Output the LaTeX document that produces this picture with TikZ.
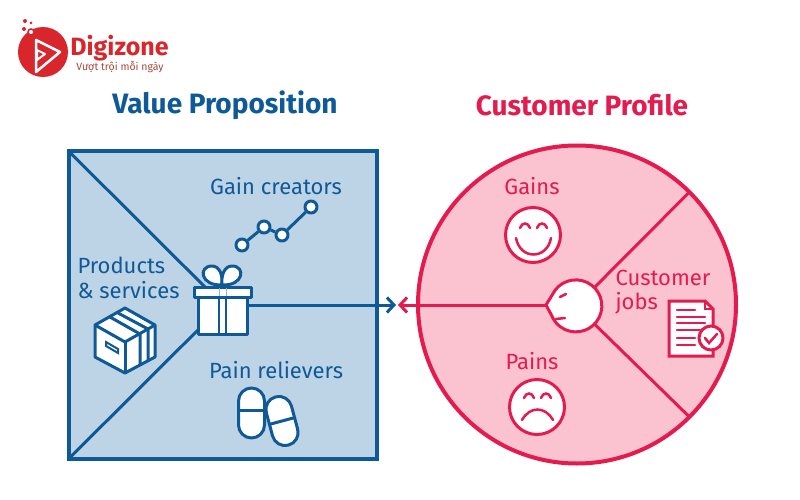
\documentclass[tikz,border=0pt]{standalone}
\usepackage{fontspec}
\setmainfont{Fira Sans}
\usetikzlibrary{arrows.meta}

\definecolor{vpblue}{HTML}{0F5A96}
\definecolor{vpfill}{HTML}{BDD3E6}
\definecolor{cpred}{HTML}{E31B4E}
\definecolor{cpfill}{HTML}{FBC3CF}
\definecolor{logored}{HTML}{D8262C}
\definecolor{logotext}{HTML}{A5493A}

\tikzset{
    title/.style={font=\fontsize{28}{32}\selectfont\bfseries},
    label/.style={font=\fontsize{22}{26}\selectfont},
    blueline/.style={draw=vpblue, line width=3pt},
    redline/.style={draw=cpred, line width=3pt},
    iconblue/.style={draw=vpblue, fill=white, line width=3pt, line join=round},
    iconred/.style={draw=cpred, fill=white, line width=3pt},
    redstroke/.style={draw=cpred, line width=2.5pt, line cap=round},
    dotnode/.style={iconblue, circle, minimum size=12pt, inner sep=0pt}
}

\begin{document}
\begin{tikzpicture}[x=1pt, y=-1pt]
    \useasboundingbox (0, 0) rectangle (800, 500);

    % Logo
    \node[circle, fill=logored, minimum size=50pt, inner sep=0pt] (logo) at (43, 52) {};
    \draw[white, line width=2.5pt, line join=round] (36, 40) -- (60, 52) -- (36, 72) -- cycle;
    \draw[white, line width=2pt, line join=round] (37, 50) -- (45, 54) -- (37, 60) -- cycle;
    \fill[logored] (25, 21) circle (2pt) (31, 23) circle (1.5pt) (24, 29) circle (2pt);
    \draw[logored, fill=white, line width=1.5pt] (31, 32) circle (3pt);
    \node[font=\fontsize{25}{28}\selectfont\bfseries, text=logored] (logoname) at (119.5, 48) {Digizone};
    \node[font=\fontsize{10.5}{12}\selectfont, text=logotext] (logotag) at (120, 67) {Vượt trội mỗi ngày};

    % Titles
    \node[title, text=vpblue] (vptitle) at (225, 105) {Value Proposition};
    \node[title, text=cpred] (cptitle) at (582, 105) {Customer Profile};

    % Square and circle
    \node[draw=vpblue, fill=vpfill, line width=4pt, minimum width=308pt, minimum height=308pt, inner sep=0pt, outer sep=0pt] (vpbox) at (222.5, 305) {};
    \node[draw=cpred, fill=cpfill, line width=4pt, circle, minimum size=318pt, inner sep=0pt, outer sep=0pt] (cpcircle) at (577, 304.5) {};

    % Free ends of the arrows and hub of the gift
    \coordinate (gifthub) at (223, 305);
    \coordinate (vpend) at (396, 305);
    \coordinate (cpend) at (398, 305);
    \coordinate (facenose) at (546, 305);

    % Lines through the square
    \draw[blueline] (vpbox.north west) -- (gifthub);
    \draw[blueline] (vpbox.south west) -- (gifthub);
    \draw[blueline, -{Straight Barb[length=7pt, width=15pt]}] (gifthub) -- (vpend);

    % Face with its lines
    \node[circle, minimum size=52pt, inner sep=0pt] (face) at (576, 306) {};
    \draw[redline] (face) -- (cpcircle.45);
    \draw[redline] (face) -- (cpcircle.-45);
    \draw[redline, -{Straight Barb[length=7pt, width=15pt]}] (facenose) -- (cpend);
    \draw[iconred, line join=round] (facenose) -- (face.143) arc[start angle=-143, end angle=158, radius=26] -- cycle;
    \draw[redstroke] (560, 297) -- (566, 294);
    \draw[redstroke] (556, 319) -- (565, 318);

    % Gift
    \draw[iconblue] (222, 285) .. controls (200, 286) and (198, 266) .. (212, 266) .. controls (220, 266) and (223, 276) .. (222, 285);
    \draw[iconblue] (222, 285) .. controls (244, 286) and (246, 266) .. (232, 266) .. controls (224, 266) and (221, 276) .. (222, 285);
    \node[iconblue, minimum width=49pt, minimum height=37pt, inner sep=0pt] (gift) at (222.5, 315.5) {};
    \node[iconblue, minimum width=57pt, minimum height=10pt, inner sep=0pt] (giftlid) at (223, 292) {};
    \draw[vpblue, line width=1.5pt] (219, 297) -- (219, 333);
    \draw[vpblue, line width=1.5pt] (226, 297) -- (226, 333);
    \draw[vpblue!45, line width=1pt] (219, 288) -- (219, 296);
    \draw[vpblue!45, line width=1pt] (226, 288) -- (226, 296);

    % Gain creators chart
    \node[label, text=vpblue] (gaincreators) at (276, 186) {Gain creators};
    \node[dotnode] (dot1) at (242, 245) {};
    \node[dotnode] (dot2) at (264, 227) {};
    \node[dotnode] (dot3) at (282, 235) {};
    \node[dotnode] (dot4) at (311, 207) {};
    \draw[blueline] (dot1) -- (dot2);
    \draw[blueline] (dot2) -- (dot3);
    \draw[blueline] (dot3) -- (dot4);

    % Products and box
    \node[label, text=vpblue, anchor=west] (products) at (74, 265) {Products};
    \node[label, text=vpblue, anchor=west] (services) at (74, 290) {\& services};
    \draw[iconblue] (125, 308) -- (155, 325) -- (155, 357) -- (125, 373) -- (95, 357) -- (95, 325) -- cycle;
    \draw[blueline] (95, 325) -- (125, 342) -- (155, 325);
    \draw[blueline] (125, 342) -- (125, 373);
    \draw[blueline] (110, 317) -- (140, 334) -- (140, 365);
    \draw[blueline] (118, 313) -- (148, 329) -- (148, 361);
    \draw[vpblue, line width=2pt] (106, 342) -- (118, 349) -- (118, 353) -- (106, 346) -- cycle;

    % Pain relievers and pills
    \node[label, text=vpblue] (painrelievers) at (276, 370) {Pain relievers};
    \draw[iconblue, rounded corners=13pt] (238.5, 388) rectangle (264.5, 438);
    \draw[blueline] (238.5, 410) -- (264.5, 410);
    \begin{scope}[shift={(282, 421)}, rotate=15]
        \draw[iconblue, rounded corners=13pt] (-13, -25) rectangle (13, 25);
        \draw[blueline] (-13, 0) -- (13, 0);
    \end{scope}

    % Gains
    \node[label, text=cpred] (gains) at (532, 186) {Gains};
    \node[iconred, circle, minimum size=55pt, inner sep=0pt] (smile) at (533, 235) {};
    \draw[redstroke] (520, 228) .. controls (522, 222) and (528, 222) .. (530, 228);
    \draw[redstroke] (537, 228) .. controls (539, 222) and (545, 222) .. (547, 228);
    \draw[redstroke] (516, 238) .. controls (520, 260) and (547, 260) .. (551, 238);

    % Pains
    \node[label, text=cpred] (pains) at (532, 361) {Pains};
    \node[iconred, circle, minimum size=55pt, inner sep=0pt] (frown) at (537, 407) {};
    \draw[redstroke] (524, 398) .. controls (526, 392) and (532, 392) .. (534, 398);
    \draw[redstroke] (541, 398) .. controls (543, 392) and (549, 392) .. (551, 398);
    \draw[redstroke] (522, 420) .. controls (530, 406) and (545, 406) .. (553, 420);

    % Customer jobs and document
    \node[label, text=cpred, anchor=west] (customer) at (612, 278) {Customer};
    \node[label, text=cpred, anchor=west] (jobs) at (612, 303) {jobs};
    \draw[iconred, line join=miter] (669, 301) -- (705, 301) -- (713, 309) -- (713, 356) -- (669, 356) -- cycle;
    \draw[redline, line width=2pt] (705, 301) -- (705, 309) -- (713, 309);
    \draw[redstroke] (677, 310) -- (695, 310);
    \draw[redstroke] (677, 317) -- (705, 317);
    \draw[redstroke] (677, 323) -- (705, 323);
    \draw[redstroke] (677, 330) -- (700, 330);
    \draw[redstroke] (677, 338) -- (695, 338);
    \draw[redstroke] (677, 345) -- (695, 345);
    \node[iconred, circle, minimum size=24pt, inner sep=0pt] (badge) at (711, 338) {};
    \draw[redstroke] (705, 338) -- (709, 343) -- (717, 334);
\end{tikzpicture}
\end{document}
